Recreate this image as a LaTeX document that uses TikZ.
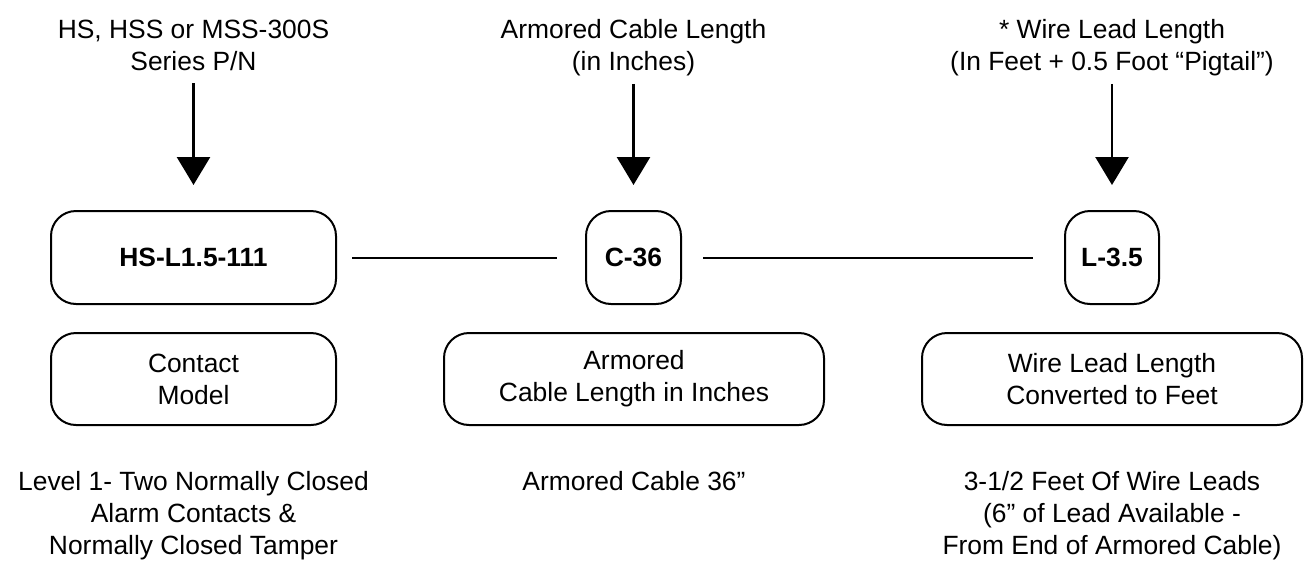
\documentclass[tikz,border=0pt]{standalone}
\usepackage{fontspec}
\setmainfont{Liberation Sans}
\usetikzlibrary{arrows.meta}
\newcommand\myfs{\fontsize{26.4}{32}\selectfont}
\begin{document}
\begin{tikzpicture}[x=1pt,y=-1pt,
  every node/.style={font=\myfs, inner sep=0pt},
  box/.style={draw, line width=2pt, rounded corners=25pt, align=center},
  lbl/.style={align=center, anchor=north},
  arr/.style={line width=2.5pt, -{Triangle[width=33pt,length=28pt]}},
  link/.style={line width=2pt}]
\useasboundingbox (0,0) rectangle (1307,571);

% top labels
\node[lbl] (t1) at (193.5,19.4) {HS, HSS or MSS-300S\\Series P/N\vphantom{(}};
\node[lbl] (t2) at (633.5,19.4) {Armored Cable Length\\(in Inches)};
\node[lbl] (t3) at (1112,19.4) {* Wire Lead Length\\(In Feet + 0.5 Foot “Pigtail”)};

% code boxes
\node[box, minimum width=285pt, minimum height=93pt, font=\myfs\bfseries] (b1) at (193.5,257.5) {HS-L1.5-111};
\node[box, minimum width=95pt, minimum height=93pt, font=\myfs\bfseries] (b2) at (633.5,257.5) {C-36};
\node[box, minimum width=94pt, minimum height=93pt, font=\myfs\bfseries] (b3) at (1112,257.5) {L-3.5};

% description boxes
\node[box, minimum width=285pt, minimum height=92pt] (d1) at (193.5,379) {Contact\\Model};
\node[box, minimum width=380pt, minimum height=92pt] (d2) at (634,379) {Armored\\Cable Length in Inches};
\node[box, minimum width=380pt, minimum height=92pt] (d3) at (1112,379) {Wire Lead Length\\Converted to Feet};

% bottom labels
\node[lbl] (e1) at (193.5,471.4) {Level 1- Two Normally Closed\\Alarm Contacts \&\\Normally Closed Tamper};
\node[lbl] (e2) at (634,471.4) {Armored Cable 36”};
\node[lbl] (e3) at (1112,471.4) {3-1/2 Feet Of Wire Leads\\(6” of Lead Available -\\From End of Armored Cable)};

% arrows
\draw[arr, shorten <=7.5pt, shorten >=25pt] (t1.south) -- (b1.north);
\draw[arr, shorten <=7.5pt, shorten >=25pt] (t2.south) -- (b2.north);
\draw[arr, shorten <=7.5pt, shorten >=25pt] (t3.south) -- (b3.north);

% links
\draw[link, shorten <=15pt, shorten >=28pt] (b1.east) -- (b2.west);
\draw[link, shorten <=21pt, shorten >=31pt] (b2.east) -- (b3.west);
\end{tikzpicture}
\end{document}
